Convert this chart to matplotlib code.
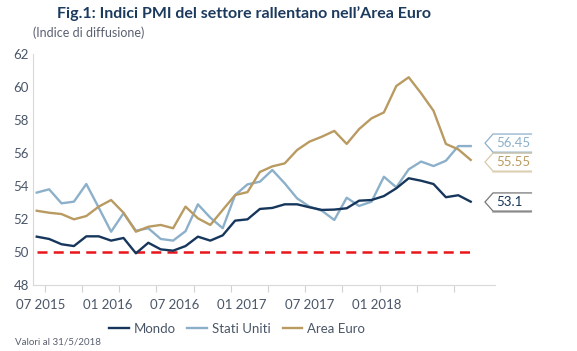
import matplotlib
matplotlib.use("Agg")
import matplotlib.pyplot as plt
import numpy as np

plt.rcParams['font.family'] = ['Lato', 'DejaVu Sans']

# ---- data ----
mondo = [50.93, 50.79, 50.47, 50.36, 50.95, 50.95, 50.69, 50.85, 49.92, 50.56,
         50.16, 50.08, 50.36, 50.93, 50.69, 51.01, 51.90, 51.98, 52.61, 52.67,
         52.89, 52.89, 52.71, 52.55, 52.57, 52.65, 53.11, 53.15, 53.39, 53.86,
         54.47, 54.32, 54.12, 53.32, 53.44, 53.05]
stati_uniti = [53.60, 53.80, 52.95, 53.05, 54.12, 52.69, 51.23, 52.35, 51.29, 51.44,
               50.79, 50.69, 51.26, 52.89, 52.08, 51.44, 53.45, 54.10, 54.26, 54.97,
               54.16, 53.25, 52.75, 52.50, 51.94, 53.29, 52.79, 53.05, 54.56, 53.92,
               55.01, 55.48, 55.21, 55.53, 56.42, 56.42]
area_euro = [52.50, 52.38, 52.30, 51.98, 52.18, 52.75, 53.15, 52.38, 51.23, 51.53,
             51.64, 51.44, 52.75, 52.04, 51.64, 52.55, 53.45, 53.63, 54.85, 55.19,
             55.37, 56.18, 56.69, 56.99, 57.34, 56.55, 57.45, 58.10, 58.46, 60.06,
             60.59, 59.62, 58.56, 56.55, 56.22, 55.58]
tick_labels = ["07 2015", "01 2016", "07 2016", "01 2017", "07 2017", "01 2018"]
last_labels = ["56.45", "55.55", "53.1"]
threshold = 50

c_mondo = "#16365c"
c_us = "#8db0ca"
c_eu = "#b99b62"
c_text = "#4a5668"

fig = plt.figure(figsize=(5.77, 3.51), dpi=100)
ax = fig.add_axes([33/577, 1-285/351, (495-33)/577, (285-54)/351])

x = np.arange(len(mondo))
ax.plot(x, mondo, color=c_mondo, lw=1.7, label="Mondo", zorder=4)
ax.plot(x, stati_uniti, color=c_us, lw=1.7, label="Stati Uniti", zorder=3)
ax.plot(x, area_euro, color=c_eu, lw=1.7, label="Area Euro", zorder=3)
ax.plot([x[0], x[-1]], [threshold, threshold], color="#e8151b", lw=1.8,
        ls=(0, (4, 2.5)), zorder=2)

ax.set_ylim(48, 62)
ax.set_xlim(-0.3, 36.96)
ax.set_yticks(np.arange(48, 63, 2))
ax.tick_params(axis='y', length=0, labelsize=9.5, labelcolor=c_text, pad=3)

label_pos = [0.35, 5.75, 11.1, 16.55, 22.0, 27.4]
ax.set_xticks(label_pos)
ax.set_xticklabels(tick_labels)
ax.set_xticks(np.arange(0.65, 36, 3), minor=True)
ax.tick_params(axis='x', which='major', length=0, labelsize=9.5, labelcolor=c_text, pad=10)
ax.tick_params(axis='x', which='minor', length=5, color="#d0d0d0", width=0.8)

for s in ['top', 'right']:
    ax.spines[s].set_visible(False)
for s in ['left', 'bottom']:
    ax.spines[s].set_color("#d9d9d9")
    ax.spines[s].set_linewidth(0.8)

# end-value tags
tag_y = [56.6, 55.45, 53.03]
tag_edge = [c_us, "#d8c9a8", "#777777"]
tag_col = [c_us, c_eu, c_mondo]
h = 0.55
for yv, txt, ec, tc in zip(tag_y, last_labels, tag_edge, tag_col):
    xt, xs, xr = 36.15, 36.8, 39.9
    ax.plot([xr, xs, xt, xs, xr], [yv + h, yv + h, yv, yv - h, yv - h],
            color=ec, lw=0.9, clip_on=False)
    ax.plot([xs, xr], [yv - h - 0.05, yv - h - 0.05], color=ec, lw=1.2,
            alpha=0.6, clip_on=False)
    ax.text(37.1, yv, txt, color=tc, fontsize=9.5, va='center', ha='left',
            clip_on=False)

fig.text(57/577, 1-14/351, "Fig.1: Indici PMI del settore rallentano nell\u2019Area Euro",
         fontsize=11.5, fontweight='bold', color="#1c3a5e", va='center', ha='left')
fig.text(33/577, 1-33/351, "(Indice di diffusione)", fontsize=9, color="#5a6070",
         va='center', ha='left')
fig.text(15/577, 1-342/351, "Valori al 31/5/2018", fontsize=7, color="#5a6070",
         va='center', ha='left')

leg = fig.legend(loc='center', bbox_to_anchor=(237/577, 1-329/351), ncol=3,
                 frameon=False, fontsize=9.5, handlelength=1.5, columnspacing=0.9,
                 handletextpad=0.35)
for t in leg.get_texts():
    t.set_color(c_text)

fig.savefig("out.png", dpi=100)
